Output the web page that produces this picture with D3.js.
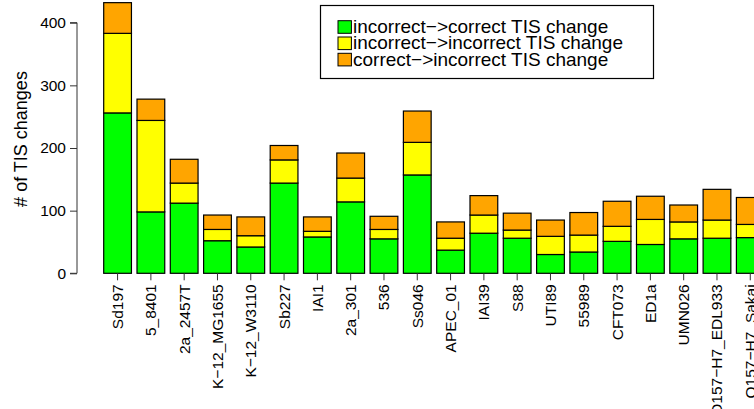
<!DOCTYPE html>
<html>
<head>
<meta charset="utf-8">
<script src="https://cdn.jsdelivr.net/npm/d3@7"></script>
<style>
  body { margin: 0; background: #fff; }
  svg { display: block; font-family: "Liberation Sans", Arial, sans-serif; }
</style>
</head>
<body>
<div id="chart"></div>
<script>
// strains along the x axis
const strains = ["Sd197", "5_8401", "2a_2457T", "K\u221212_MG1655", "K\u221212_W3110", "Sb227", "IAI1",
  "2a_301", "536", "Ss046", "APEC_01", "IAI39", "S88", "UTI89", "55989", "CFT073", "ED1a",
  "UMN026", "O157\u2212H7_EDL933", "O157\u2212H7_Sakai"];

// stacked series, bottom to top
const incToCorrect   = [256, 98, 112, 52, 42, 144, 58, 114, 55, 157, 37, 64, 56, 30, 34, 51, 46, 55, 56, 57];
const incToIncorrect = [127, 146, 32, 18, 18, 37, 9, 38, 15, 52, 19, 29, 13, 29, 27, 24, 40, 27, 29, 21];
const corToIncorrect = [49, 34, 38, 23, 30, 23, 23, 40, 21, 50, 26, 31, 27, 26, 36, 40, 37, 27, 49, 43];

const seriesNames = ["incorrect\u2212>correct TIS change", "incorrect\u2212>incorrect TIS change", "correct\u2212>incorrect TIS change"];
const seriesColors = ["#00ff00", "#ffff00", "#ffa500"];
const yTicks = [0, 100, 200, 300, 400];

const W = 754, H = 409;
const svg = d3.select("#chart").append("svg").attr("width", W).attr("height", H);

// R barplot style: space 0.2 between bars
const x = d3.scaleBand()
  .domain(strains)
  .range([103.7, 103.7 + 33.3 * (strains.length - 1 / 6)])
  .paddingInner(1 / 6)
  .paddingOuter(0);

const y = d3.scaleLinear().domain([0, 400]).range([273.3, 22.7]);

// build stacked rows
const rows = strains.map((s, i) => ({ strain: s, a: incToCorrect[i], b: incToIncorrect[i], c: corToIncorrect[i] }));
const stack = d3.stack().keys(["a", "b", "c"])(rows);

const layers = svg.append("g").selectAll("g")
  .data(stack)
  .join("g")
  .attr("fill", (d, i) => seriesColors[i]);

layers.selectAll("rect")
  .data(d => d)
  .join("rect")
  .attr("x", d => x(d.data.strain))
  .attr("width", x.bandwidth())
  .attr("y", d => y(d[1]))
  .attr("height", d => y(d[0]) - y(d[1]))
  .attr("stroke", "#000")
  .attr("stroke-width", 1.2);

// y axis
const yAxis = svg.append("g")
  .attr("transform", "translate(77,0)")
  .call(d3.axisLeft(y).tickValues(yTicks).tickSize(7).tickPadding(4));
yAxis.select(".domain").attr("stroke", "#333").attr("d", `M-7,${y(0)}H0V${y(400)}H-7`);
yAxis.selectAll(".tick line").attr("stroke", "#333");
yAxis.selectAll("text").attr("font-size", 15.5).attr("fill", "#000")
  .attr("font-family", "Liberation Sans, Arial, sans-serif");

// x axis: ticks at bar centres, rotated labels
const xAxis = svg.append("g")
  .attr("transform", `translate(0,${y(0)})`)
  .call(d3.axisBottom(x).tickSize(7).tickPadding(4));
xAxis.select(".domain").remove();
xAxis.selectAll(".tick line").attr("stroke", "#333");
xAxis.selectAll("text")
  .attr("font-size", 15.5)
  .attr("fill", "#000")
  .attr("font-family", "Liberation Sans, Arial, sans-serif")
  .attr("transform", "rotate(-90)")
  .attr("text-anchor", "end")
  .attr("x", -11)
  .attr("y", 0)
  .attr("dy", "0.35em");

// y label
svg.append("text")
  .attr("transform", "translate(27,139) rotate(-90)")
  .attr("text-anchor", "middle")
  .attr("font-size", 18)
  .text("# of TIS changes");

// legend
const legend = svg.append("g");
legend.append("rect")
  .attr("x", 320.5).attr("y", 5.5).attr("width", 333).attr("height", 73)
  .attr("fill", "#fff").attr("stroke", "#000").attr("stroke-width", 1.2);

const items = legend.selectAll("g.item")
  .data(seriesNames)
  .join("g")
  .attr("class", "item")
  .attr("transform", (d, i) => `translate(338,${27 + i * 16.3})`);
items.append("rect")
  .attr("x", 0).attr("y", -6.3).attr("width", 13.4).attr("height", 12.6)
  .attr("fill", (d, i) => seriesColors[i])
  .attr("stroke", "#000").attr("stroke-width", 1);
items.append("text")
  .attr("x", 15).attr("y", 6)
  .attr("font-size", 19)
  .text(d => d);
</script>
</body>
</html>
